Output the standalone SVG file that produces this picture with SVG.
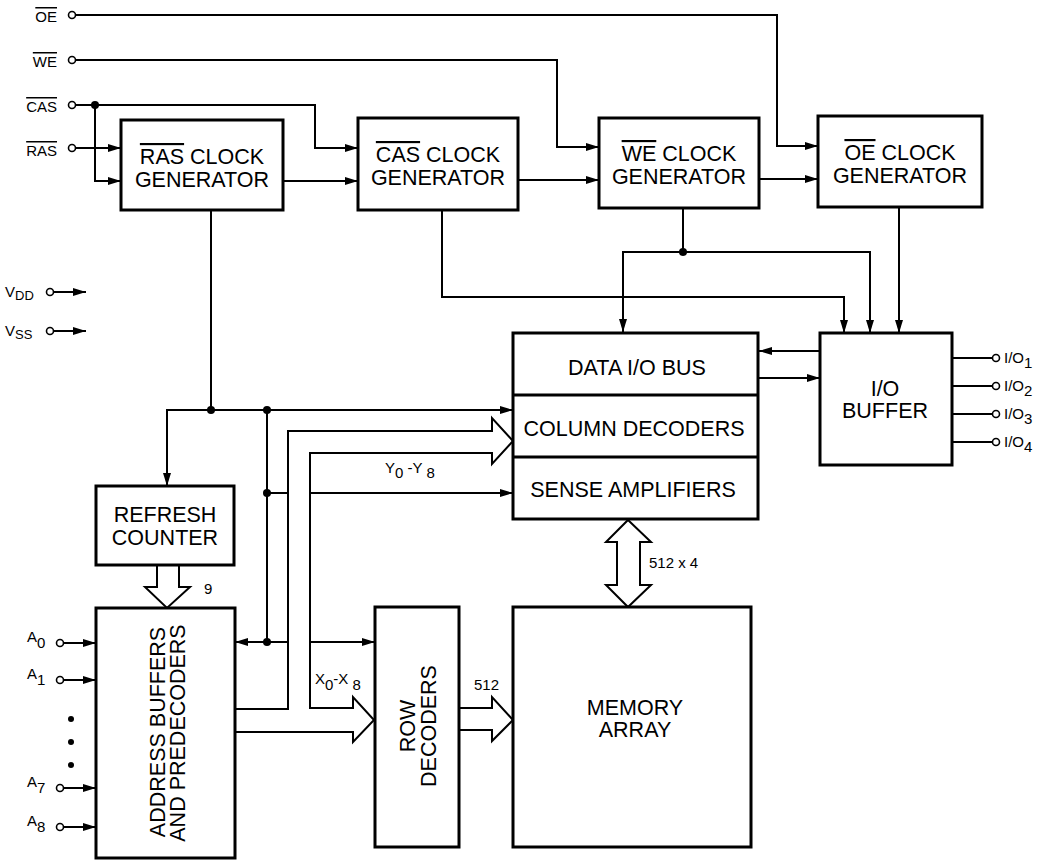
<svg xmlns="http://www.w3.org/2000/svg" width="1049" height="862" viewBox="0 0 1049 862">
<style>
.box{fill:#fff;stroke:#000;stroke-width:3}
.ln{fill:none;stroke:#000;stroke-width:2}
.ar{fill:none;stroke:#000;stroke-width:2;marker-end:url(#ah)}
.bus{fill:#fff;stroke:#000;stroke-width:2;stroke-linejoin:miter}
.pin{fill:#fff;stroke:#000;stroke-width:1.6}
.dot{fill:#000}
.t{font-family:"Liberation Sans",Arial,sans-serif;font-size:21.5px;fill:#000;text-anchor:middle}
.s{font-family:"Liberation Sans",Arial,sans-serif;font-size:15px;fill:#000}
.ov{text-decoration:overline}
</style>
<defs>
<marker id="ah" markerWidth="14" markerHeight="10" refX="13" refY="4" orient="auto" markerUnits="userSpaceOnUse">
<path d="M0,0 L13,4 L0,8 z" fill="#000"/>
</marker>
</defs>
<rect width="1049" height="862" fill="#fff"/>

<g id="connectors">
<path class="ar" d="M75.5,15 H777 V146 H818"/>
<path class="ar" d="M75.5,60 H557 V147 H599"/>
<path class="ar" d="M75.5,105 H315 V148 H358"/>
<path class="ar" d="M95,105 V181 H121"/>
<path class="ar" d="M75.5,148 H121"/>
<path class="ar" d="M283,181 H358"/>
<path class="ar" d="M518,180 H599"/>
<path class="ar" d="M759,179 H818"/>
<path class="ln" d="M211,210 V410"/>
<path class="ar" d="M211,410 H167 V486"/>
<path class="ar" d="M211,410 H513"/>
<path class="ln" d="M267,410 V642"/>
<path class="ln" d="M267,493 H288"/>
<path class="ar" d="M310,493 H513"/>
<path class="ar" d="M288,642 H235"/>
<path class="ar" d="M310,642 H375"/>
<path class="ar" d="M442,210 V297 H844 V333"/>
<path class="ln" d="M683,208 V252"/>
<path class="ar" d="M683,252 H623 V332"/>
<path class="ar" d="M683,252 H870 V333"/>
<path class="ar" d="M899,207 V333"/>
<path class="ar" d="M820,351 H759"/>
<path class="ar" d="M758,378 H820"/>
<path class="ln" d="M952,358 H992.5 M952,386 H992.5 M952,414 H992.5 M952,442 H992.5"/>
<path class="ar" d="M63.5,643 H96"/>
<path class="ar" d="M63.5,680 H96"/>
<path class="ar" d="M63.5,788 H96"/>
<path class="ar" d="M63.5,827 H96"/>
<path class="ar" d="M53.5,292 H86"/>
<path class="ar" d="M53.5,331 H86"/>
<polyline class="bus" points="235,709 288,709 288,431 492,431 492,418 513,441 492,464 492,453 310,453 310,708 353,708 353,697 374,720 353,742 353,732 235,732"/>
<polyline class="bus" points="157,565 157,587 145,587 167,608 190,587 179,587 179,565"/>
<polyline class="bus" points="460,708 492,708 492,697 513,720 492,741 492,730 460,730"/>
<polygon class="bus" points="628,520 651,542 640,542 640,585 651,585 628,607 606,585 617,585 617,542 606,542"/>
<circle class="dot" cx="95" cy="105" r="4"/>
<circle class="dot" cx="211" cy="410" r="4"/>
<circle class="dot" cx="267" cy="410" r="4"/>
<circle class="dot" cx="267" cy="493" r="4"/>
<circle class="dot" cx="267" cy="642" r="4"/>
<circle class="dot" cx="683" cy="252" r="4"/>
<circle class="pin" cx="72" cy="15" r="3.5"/>
<circle class="pin" cx="72" cy="60" r="3.5"/>
<circle class="pin" cx="72" cy="105" r="3.5"/>
<circle class="pin" cx="72" cy="148" r="3.5"/>
<circle class="pin" cx="50" cy="292" r="3.5"/>
<circle class="pin" cx="50" cy="331" r="3.5"/>
<circle class="pin" cx="60" cy="643" r="3.5"/>
<circle class="pin" cx="60" cy="680" r="3.5"/>
<circle class="pin" cx="60" cy="788" r="3.5"/>
<circle class="pin" cx="60" cy="827" r="3.5"/>
<circle class="pin" cx="996" cy="358" r="3.5"/>
<circle class="pin" cx="996" cy="386" r="3.5"/>
<circle class="pin" cx="996" cy="414" r="3.5"/>
<circle class="pin" cx="996" cy="442" r="3.5"/>
<circle class="dot" cx="71" cy="719" r="3"/>
<circle class="dot" cx="71" cy="742" r="3"/>
<circle class="dot" cx="71" cy="765" r="3"/>
</g>

<g id="pin-labels">
<text class="s" x="57" y="22" text-anchor="end"><tspan class="ov">OE</tspan></text>
<text class="s" x="57" y="67" text-anchor="end"><tspan class="ov">WE</tspan></text>
<text class="s" x="57" y="112" text-anchor="end"><tspan class="ov">CAS</tspan></text>
<text class="s" x="57" y="156" text-anchor="end"><tspan class="ov">RAS</tspan></text>
<text class="s" x="5" y="297">V<tspan font-size="13" dy="3">DD</tspan></text>
<text class="s" x="5" y="336">V<tspan font-size="13" dy="3">SS</tspan></text>
<text class="s" x="1004" y="363">I/O<tspan dy="5">1</tspan></text>
<text class="s" x="1004" y="391">I/O<tspan dy="5">2</tspan></text>
<text class="s" x="1004" y="419">I/O<tspan dy="5">3</tspan></text>
<text class="s" x="1004" y="447">I/O<tspan dy="5">4</tspan></text>
<text class="s" x="27" y="642" font-size="13">A<tspan font-size="15" dy="6">0</tspan></text>
<text class="s" x="27" y="679" font-size="13">A<tspan font-size="15" dy="6">1</tspan></text>
<text class="s" x="27" y="787" font-size="13">A<tspan font-size="15" dy="6">7</tspan></text>
<text class="s" x="27" y="826" font-size="13">A<tspan font-size="15" dy="6">8</tspan></text>
<text class="s" x="385" y="473">Y<tspan dy="5">0</tspan><tspan dy="-5"> -Y</tspan><tspan dy="5"> 8</tspan></text>
<text class="s" x="315" y="684">X<tspan dy="6">0</tspan><tspan dy="-6">-X</tspan><tspan dy="6"> 8</tspan></text>
<text class="s" x="204" y="594">9</text>
<text class="s" x="474" y="690">512</text>
<text class="s" x="649" y="568">512 x 4</text>
</g>

<g id="ras-clock">
<rect class="box" x="121" y="120" width="162" height="90"/>
<text class="t" x="202" y="164"><tspan class="ov">RAS</tspan> CLOCK</text>
<text class="t" x="202" y="187">GENERATOR</text>
</g>
<g id="cas-clock">
<rect class="box" x="358" y="118" width="160" height="92"/>
<text class="t" x="438" y="162"><tspan class="ov">CAS</tspan> CLOCK</text>
<text class="t" x="438" y="185">GENERATOR</text>
</g>
<g id="we-clock">
<rect class="box" x="599" y="118" width="160" height="90"/>
<text class="t" x="679" y="161"><tspan class="ov">WE</tspan> CLOCK</text>
<text class="t" x="679" y="184">GENERATOR</text>
</g>
<g id="oe-clock">
<rect class="box" x="818" y="116" width="164" height="91"/>
<text class="t" x="900" y="160"><tspan class="ov">OE</tspan> CLOCK</text>
<text class="t" x="900" y="183">GENERATOR</text>
</g>
<g id="data-column-sense">
<rect class="box" x="513" y="333" width="245" height="186"/>
<line class="box" x1="513" y1="395" x2="758" y2="395"/>
<line class="box" x1="513" y1="457" x2="758" y2="457"/>
<text class="t" x="637" y="375">DATA I/O BUS</text>
<text class="t" x="634" y="436">COLUMN DECODERS</text>
<text class="t" x="633" y="497">SENSE AMPLIFIERS</text>
</g>
<g id="io-buffer">
<rect class="box" x="820" y="333" width="132" height="132"/>
<text class="t" x="885" y="396">I/O</text>
<text class="t" x="885" y="418">BUFFER</text>
</g>
<g id="refresh-counter">
<rect class="box" x="96" y="486" width="138" height="79"/>
<text class="t" x="165" y="522">REFRESH</text>
<text class="t" x="165" y="545">COUNTER</text>
</g>
<g id="address-buffers">
<rect class="box" x="96" y="608" width="139" height="250"/>
<text class="t" transform="translate(165,732) rotate(-90)">ADDRESS BUFFERS</text>
<text class="t" transform="translate(185,733) rotate(-90)">AND PREDECODERS</text>
</g>
<g id="row-decoders">
<rect class="box" x="375" y="607" width="84" height="240"/>
<text class="t" transform="translate(415,726) rotate(-90)">ROW</text>
<text class="t" transform="translate(436,726) rotate(-90)">DECODERS</text>
</g>
<g id="memory-array">
<rect class="box" x="513" y="607" width="238" height="240"/>
<text class="t" x="635" y="715">MEMORY</text>
<text class="t" x="635" y="737">ARRAY</text>
</g>
</svg>
